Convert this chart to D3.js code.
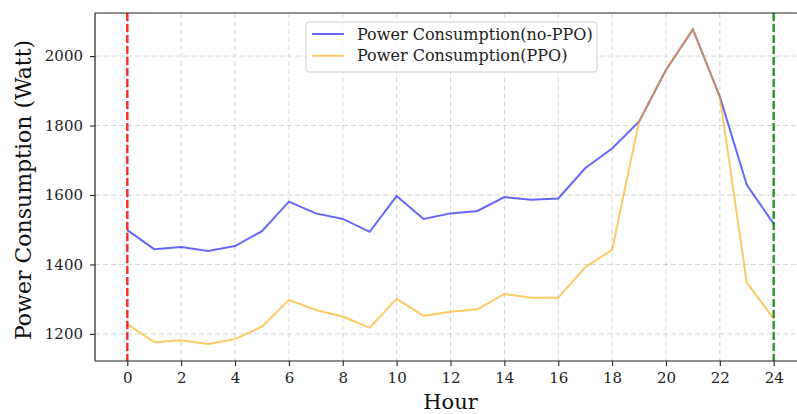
<!DOCTYPE html>
<html><head><meta charset="utf-8">
<script src="https://cdn.jsdelivr.net/npm/d3@7"></script>
<style>body{margin:0;background:#fff;} svg{display:block;font-family:"DejaVu Serif",serif;}</style>
</head><body>
<svg id="c" width="797" height="414"></svg>
<script>
const hours = d3.range(0, 25);
const noPPO = [1499,1444,1450,1439,1453,1496,1581,1547,1531,1494,1597,1531,1547,1554,1594,1586,1590,1677,1734,1811,1960,2077,1883,1629,1517];
const ppo   = [1228,1176,1182,1171,1185,1221,1298,1269,1250,1218,1301,1252,1264,1271,1315,1304,1304,1392,1442,1811,1960,2077,1883,1348,1244];
const xTicks = d3.range(0, 25, 2);
const yTicks = [1200,1400,1600,1800,2000];
const seriesNames = ["Power Consumption(no-PPO)","Power Consumption(PPO)"];
const seriesColors = ["#0000ff","#ffa500"];
const markers = [{x:0,color:"#ff0000"},{x:24,color:"#008000"}];

const svg = d3.select("#c");
const L = 95, R = 806, T = 13, B = 361;
const x = d3.scaleLinear().domain([-1.2, 25.2]).range([L, R]);
const y = d3.scaleLinear().domain([1122, 2124]).range([B, T]);

// grid
const g = svg.append("g");
g.selectAll(".gx").data(xTicks).join("line")
  .attr("x1", d=>x(d)).attr("x2", d=>x(d)).attr("y1", T).attr("y2", B)
  .attr("stroke","#b0b0b0").attr("stroke-opacity",0.5).attr("stroke-width",1).attr("stroke-dasharray","5,3");
g.selectAll(".gy").data(yTicks).join("line")
  .attr("x1", L).attr("x2", R).attr("y1", d=>y(d)).attr("y2", d=>y(d))
  .attr("stroke","#b0b0b0").attr("stroke-opacity",0.5).attr("stroke-width",1).attr("stroke-dasharray","5,3");

// lines
const line = d3.line().x((d,i)=>x(hours[i])).y(d=>y(d));
[noPPO, ppo].forEach((s,k)=>{
  svg.append("path").datum(s).attr("d", line).attr("fill","none")
    .attr("stroke", seriesColors[k]).attr("stroke-opacity",0.6).attr("stroke-width",2);
});

// vertical markers
markers.forEach(m=>{
  svg.append("line").attr("x1",x(m.x)).attr("x2",x(m.x)).attr("y1",T).attr("y2",B)
    .attr("stroke",m.color).attr("stroke-opacity",0.8).attr("stroke-width",2.5).attr("stroke-dasharray","8,3");
});

// axes
const xa = svg.append("g").attr("transform",`translate(0,${B})`)
  .call(d3.axisBottom(x).tickValues(xTicks).tickSize(5).tickPadding(6).tickFormat(d3.format("d")));
const ya = svg.append("g").attr("transform",`translate(${L},0)`)
  .call(d3.axisLeft(y).tickValues(yTicks).tickSize(5).tickPadding(7).tickFormat(d3.format("d")));
[xa, ya].forEach(a=>{
  a.select(".domain").remove();
  a.selectAll(".tick line").attr("stroke","#222").attr("stroke-width",1.1);
  a.selectAll(".tick text").attr("fill","#222").style("font-family","DejaVu Serif").style("font-size","15px");
});
// spines
svg.append("line").attr("x1",L).attr("x2",R).attr("y1",T).attr("y2",T).attr("stroke","#222").attr("stroke-width",1.2);
svg.append("line").attr("x1",L).attr("x2",R).attr("y1",B).attr("y2",B).attr("stroke","#222").attr("stroke-width",1.2);
svg.append("line").attr("x1",L).attr("x2",L).attr("y1",T).attr("y2",B).attr("stroke","#222").attr("stroke-width",1.2);

// labels
svg.append("text").attr("x",(L+R)/2).attr("y",409)
  .attr("text-anchor","middle").style("font-size","21px").attr("fill","#111").text("Hour");
svg.append("text").attr("transform",`translate(31,190) rotate(-90)`)
  .attr("text-anchor","middle").style("font-size","22px").attr("fill","#111").text("Power Consumption (Watt)");

// legend
const lg = svg.append("g");
lg.append("rect").attr("x",306).attr("y",22).attr("width",291).attr("height",50).attr("rx",3)
  .attr("fill","#fff").attr("fill-opacity",0.8).attr("stroke","#ccc").attr("stroke-width",1);
seriesNames.forEach((n,i)=>{
  const yy = 34 + i*21.7;
  lg.append("line").attr("x1",312).attr("x2",344).attr("y1",yy).attr("y2",yy)
    .attr("stroke",seriesColors[i]).attr("stroke-opacity",0.6).attr("stroke-width",2);
  lg.append("text").attr("x",357).attr("y",yy).attr("dy","0.35em").style("font-size","16px").attr("fill","#222").text(n);
});
</script>
</body></html>
